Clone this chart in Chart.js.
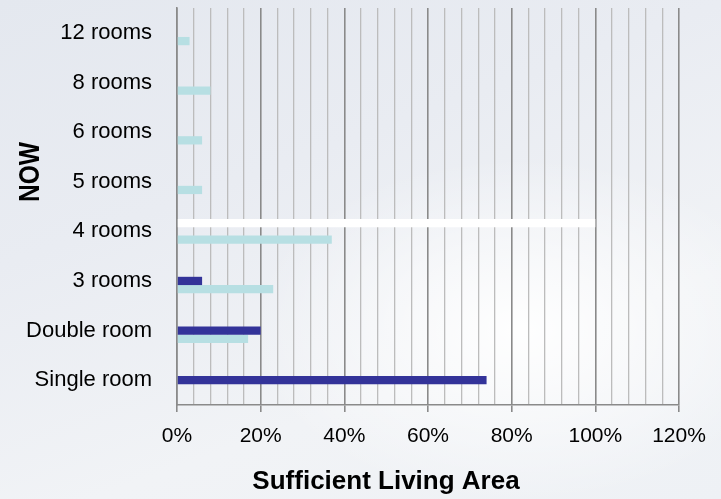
<!DOCTYPE html>
<html>
<head>
<meta charset="utf-8">
<script src="https://cdn.jsdelivr.net/npm/chart.js@4.4.1/dist/chart.umd.min.js"></script>
<style>
    html, body {
        margin: 0;
        padding: 0;
    }
    body {
        width: 721px;
        height: 499px;
        overflow: hidden;
        background:
            radial-gradient(ellipse 360px 230px at 520px 330px, rgba(255,255,255,0.95), rgba(255,255,255,0) 75%),
            linear-gradient(160deg, #e4e8ef 0%, #e9ecf2 35%, #f1f3f6 70%, #eef1f5 100%);
    }
    #wrap {
        position: relative;
        width: 721px;
        height: 499px;
    }
</style>
</head>
<body>
<div id="wrap"><canvas id="roomChart"></canvas></div>
<script>
// Data (top to bottom as drawn)
const categories = ['12 rooms', '8 rooms', '6 rooms', '5 rooms', '4 rooms', '3 rooms', 'Double room', 'Single room'];
const whiteValues = [0, 0, 0, 0, 100, 0, 0, 0];
const navyValues = [0, 0, 0, 0, 0, 6, 20, 74];
const cyanValues = [3, 8, 6, 6, 37, 23, 17, 0];
const xTickLabels = ['0%', '20%', '40%', '60%', '80%', '100%', '120%'];

const fontFamily = "'Liberation Sans', Arial, sans-serif";

// Axis titles placed like the slide (not centred on the plot)
const axisTitles = {
    id: 'axisTitles',
    afterDraw(chart) {
        const c = chart.ctx;
        c.save();
        c.fillStyle = '#000';
        c.textAlign = 'center';
        c.textBaseline = 'middle';
        c.font = 'bold 26px ' + fontFamily;
        c.fillText('Sufficient Living Area', 386, 482);
        c.translate(31, 172);
        c.rotate(-Math.PI / 2);
        c.scale(0.82, 1); // narrow bold look
        c.font = 'bold 30px ' + fontFamily;
        c.fillText('NOW', 0, 0);
        c.restore();
    }
};

const ctx = document.getElementById('roomChart').getContext('2d');
const roomChart = new Chart(ctx, {
    type: 'bar',
    data: {
        labels: categories,
        datasets: [{
            label: 'white',
            data: whiteValues,
            backgroundColor: '#ffffff'
        }, {
            label: 'navy',
            data: navyValues,
            backgroundColor: '#333399'
        }, {
            label: 'cyan',
            data: cyanValues,
            backgroundColor: '#b7dfe3'
        }]
    },
    options: {
        indexAxis: 'y',
        responsive: true,
        maintainAspectRatio: false,
        animation: false,
        categoryPercentage: 0.5,
        barPercentage: 1.0,
        layout: {
            padding: { left: 0, right: 42, top: 8, bottom: 0 }
        },
        plugins: {
            legend: { display: false },
            tooltip: { enabled: false }
        },
        scales: {
            x: {
                min: 0,
                max: 120,
                grid: {
                    color: ctx => (ctx.tick && ctx.tick.value % 20 === 0) ? '#8a8a8a' : '#bcbcbc',
                    lineWidth: ctx => (ctx.tick && ctx.tick.value % 20 === 0) ? 1.6 : 1.3,
                    tickColor: ctx => (ctx.tick && ctx.tick.value % 20 === 0) ? '#8a8a8a' : 'rgba(0,0,0,0)',
                    tickLength: 7
                },
                border: { color: '#8a8a8a', width: 1.6 },
                ticks: {
                    stepSize: 4,
                    autoSkip: false,
                    maxRotation: 0,
                    padding: 12,
                    color: '#000',
                    font: { family: fontFamily, size: 21 },
                    callback: v => (v % 20 === 0) ? xTickLabels[v / 20] : ''
                },
                afterFit: scale => {
                    scale.height = 94;
                    scale.paddingLeft = 0;
                    scale.paddingRight = 0;
                }
            },
            y: {
                grid: { display: false, drawTicks: false },
                border: { color: '#8a8a8a', width: 1.6 },
                ticks: {
                    padding: 25,
                    color: '#000',
                    font: { family: fontFamily, size: 22 }
                },
                afterFit: scale => {
                    scale.width = 177;
                    scale.paddingTop = 0;
                    scale.paddingBottom = 0;
                }
            }
        }
    },
    plugins: [axisTitles]
});
</script>
</body>
</html>
